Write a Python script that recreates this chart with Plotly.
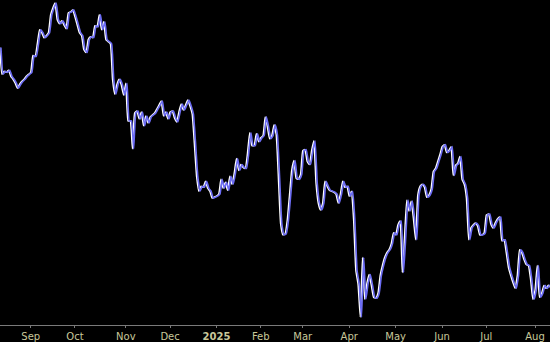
import pandas as pd
import plotly.graph_objects as go

holidays = ["2024-09-02", "2024-11-28", "2024-12-25", "2025-01-01", "2025-01-09",
            "2025-01-20", "2025-02-17", "2025-04-18", "2025-05-26", "2025-06-19", "2025-07-04"]
start_date = "2024-08-13"
end_date = "2025-08-12"

close = [
    292, 265, 268, 267, 269, 263, 260, 256, 251, 255,
    258, 260, 263, 265, 267, 284, 283, 296, 310, 307,
    302, 304, 307, 325, 332, 337, 320, 316, 319, 315,
    311, 327, 328, 330, 323, 315, 307, 304, 290, 287,
    300, 303, 302, 314, 313, 325, 310, 318, 300, 298,
    296, 260, 245, 255, 260, 254, 244, 256, 218, 218,
    190, 226, 228, 220, 227, 213, 223, 216, 222, 224,
    226, 230, 234, 238, 223, 227, 220, 227, 228, 221,
    217, 227, 235, 229, 234, 239, 233, 225, 195, 162,
    147, 152, 151, 157, 150, 147, 140, 141, 142, 144,
    159, 150, 156, 148, 162, 154, 165, 180, 168, 174,
    171, 170, 185, 206, 193, 193, 205, 197, 201, 203,
    222, 212, 200, 203, 214, 204, 160, 114, 103, 104,
    118, 143, 168, 178, 160, 159, 164, 188, 189, 177,
    174, 188, 198, 155, 135, 128, 135, 157, 152, 148,
    147, 146, 144, 135, 144, 157, 151, 152, 142, 147,
    118, 67, 53, 20, 80, 38, 54, 63, 52, 40,
    39, 44, 62, 72, 80, 85, 88, 94, 105, 103,
    113, 117, 65, 100, 138, 127, 137, 120, 98, 143,
    152, 154, 151, 141, 143, 149, 167, 170, 177, 184,
    192, 194, 186, 188, 192, 163, 173, 175, 182, 159,
    154, 140, 98, 110, 113, 115, 112, 103, 103, 105,
    123, 124, 114, 110, 115, 119, 121, 97, 98, 85,
    70, 62, 55, 49, 62, 88, 85, 78, 73, 72,
    58, 38, 47, 72, 40, 44, 52, 49, 52, 50,
]

tick_dates = ["2024-09-03", "2024-10-01", "2024-11-01", "2024-12-02", "2025-01-02", "2025-02-03",
              "2025-03-03", "2025-04-01", "2025-05-01", "2025-06-02", "2025-07-01", "2025-08-01"]
tick_labels = ["Sep", "Oct", "Nov", "Dec", "<b>2025</b>", "Feb", "Mar", "Apr", "May", "Jun", "Jul", "Aug"]

dates = pd.bdate_range(start_date, end_date, freq="C", holidays=holidays)
dates = [d.strftime("%Y-%m-%d") for d in dates][:len(close)]

xr = [0.12, 248.77]
shift = 0.55

fig = go.Figure()
fig.add_trace(go.Scatter(x=dates, y=close, mode="lines", xaxis="x2",
                         line=dict(color="#6c6cf4", width=1.6, shape="spline", smoothing=0.4),
                         hoverinfo="skip"))
fig.add_trace(go.Scatter(x=dates, y=close, mode="lines",
                         line=dict(color="#ffffff", width=1.5, shape="spline", smoothing=0.4)))

fig.update_layout(
    width=550, height=342,
    margin=dict(l=0, r=0, t=0, b=14),
    paper_bgcolor="#000000", plot_bgcolor="#000000",
    showlegend=False,
    xaxis=dict(type="category", range=xr, tickmode="array", tickvals=tick_dates,
               ticktext=tick_labels, showgrid=False, zeroline=False,
               showline=True, linecolor="#7a7a7a", linewidth=1,
               ticks="outside", ticklen=2, tickcolor="#7a7a7a",
               tickfont=dict(family="DejaVu Sans", size=10, color="#c8c89a")),
    xaxis2=dict(type="category", overlaying="x", range=[xr[0] - shift, xr[1] - shift],
                visible=False, categoryorder="array", categoryarray=dates),
    yaxis=dict(range=[12, 340], visible=False, showgrid=False, zeroline=False),
)

fig.write_html("out.html")
